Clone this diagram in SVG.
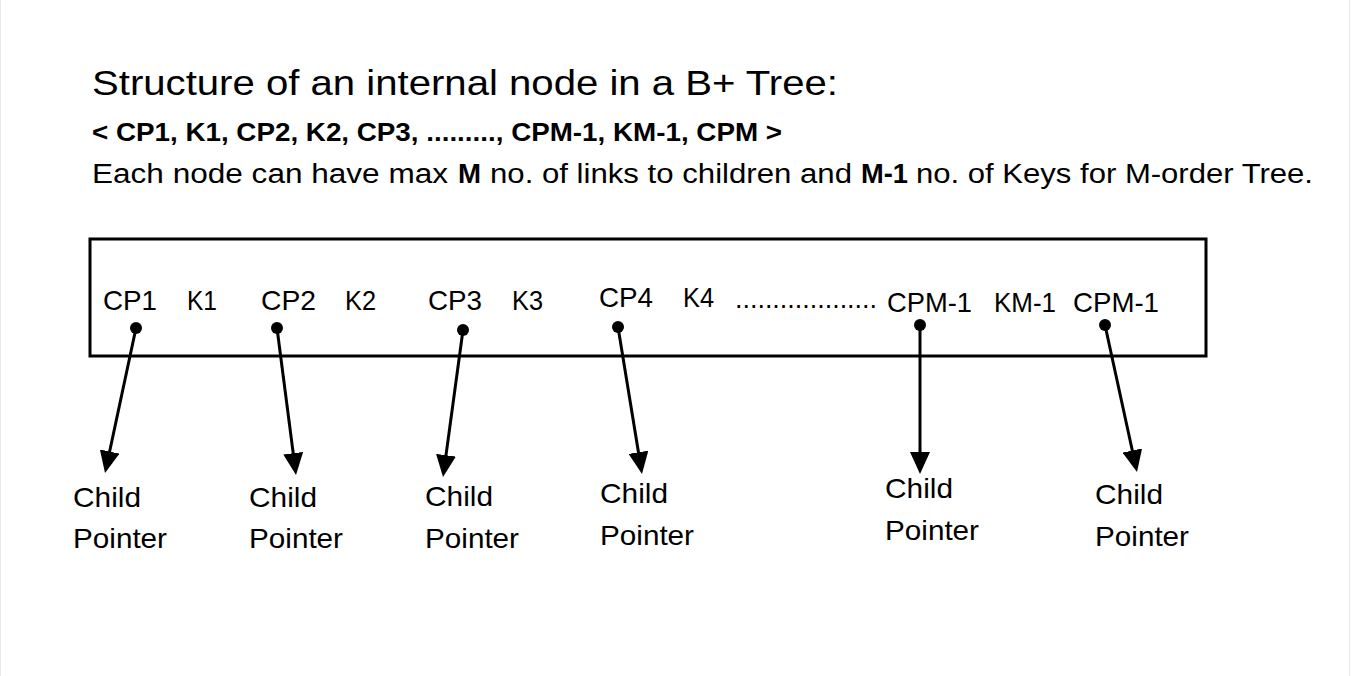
<svg xmlns="http://www.w3.org/2000/svg" width="1351" height="676" viewBox="0 0 1351 676">
<style>
  .t { font-family: "Liberation Sans", Arial, sans-serif; fill: #000; }
  .b { font-weight: bold; }
  .key { font-family: "Liberation Sans", Arial, sans-serif; font-size: 28px; fill: #000; }
  .lbl { font-family: "Liberation Sans", Arial, sans-serif; font-size: 28px; fill: #000; }
  .conn { stroke: #000; stroke-width: 3; fill: none; marker-end: url(#arr); }
  .dot { fill: #000; }
</style>
<defs>
  <marker id="arr" markerUnits="userSpaceOnUse" markerWidth="22" markerHeight="20" refX="14" refY="10" orient="auto" viewBox="0 0 22 20">
    <path d="M0,0 L22,10 L0,20 z" fill="#000"/>
  </marker>
</defs>
<rect x="0" y="0" width="1351" height="676" fill="#fff"/>
<rect x="0.5" y="-2" width="1349" height="680" fill="none" stroke="#e8e8e8" stroke-width="1"/>

<g id="header">
  <text class="t" x="92" y="95" font-size="35" textLength="746" lengthAdjust="spacingAndGlyphs">Structure of an internal node in a B+ Tree:</text>
  <text class="t b" x="92" y="141" font-size="25" textLength="690" lengthAdjust="spacingAndGlyphs">&lt; CP1, K1, CP2, K2, CP3, ........., CPM-1, KM-1, CPM &gt;</text>
  <text class="t" x="92" y="183" font-size="27" textLength="356" lengthAdjust="spacingAndGlyphs">Each node can have max</text>
  <text class="t b" x="458" y="183" font-size="27" textLength="23" lengthAdjust="spacingAndGlyphs">M</text>
  <text class="t" x="490" y="183" font-size="27" textLength="362" lengthAdjust="spacingAndGlyphs">no. of links to children and</text>
  <text class="t b" x="861" y="183" font-size="27" textLength="47" lengthAdjust="spacingAndGlyphs">M-1</text>
  <text class="t" x="916" y="183" font-size="27" textLength="397" lengthAdjust="spacingAndGlyphs">no. of Keys for M-order Tree.</text>
</g>

<g id="node">
  <rect x="90" y="239" width="1116" height="117" fill="none" stroke="#000" stroke-width="3"/>
  <text class="key" x="103" y="310" textLength="54" lengthAdjust="spacingAndGlyphs">CP1</text>
  <text class="key" x="187" y="310" textLength="30" lengthAdjust="spacingAndGlyphs">K1</text>
  <text class="key" x="261" y="310" textLength="55" lengthAdjust="spacingAndGlyphs">CP2</text>
  <text class="key" x="345" y="310" textLength="31" lengthAdjust="spacingAndGlyphs">K2</text>
  <text class="key" x="428" y="310" textLength="54" lengthAdjust="spacingAndGlyphs">CP3</text>
  <text class="key" x="512" y="310" textLength="31" lengthAdjust="spacingAndGlyphs">K3</text>
  <text class="key" x="599" y="307" textLength="54" lengthAdjust="spacingAndGlyphs">CP4</text>
  <text class="key" x="683" y="307" textLength="31" lengthAdjust="spacingAndGlyphs">K4</text>
  <text class="key" x="735" y="308" textLength="142" lengthAdjust="spacingAndGlyphs">...................</text>
  <text class="key" x="887" y="312" textLength="85" lengthAdjust="spacingAndGlyphs">CPM-1</text>
  <text class="key" x="994" y="312" textLength="62" lengthAdjust="spacingAndGlyphs">KM-1</text>
  <text class="key" x="1073" y="312" textLength="86" lengthAdjust="spacingAndGlyphs">CPM-1</text>
  <circle class="dot" cx="136" cy="328" r="6"/>
  <circle class="dot" cx="277" cy="328" r="6"/>
  <circle class="dot" cx="463" cy="330" r="6"/>
  <circle class="dot" cx="618" cy="327" r="6"/>
  <circle class="dot" cx="920" cy="325" r="6"/>
  <circle class="dot" cx="1105" cy="325" r="6"/>
</g>

<g id="connectors">
  <line class="conn" x1="136" y1="328" x2="106.7" y2="465.2"/>
  <line class="conn" x1="277" y1="328" x2="295.0" y2="467.1"/>
  <line class="conn" x1="463" y1="330" x2="444.1" y2="469.1"/>
  <line class="conn" x1="618" y1="327" x2="640.7" y2="466.1"/>
  <line class="conn" x1="920" y1="325" x2="920" y2="466"/>
  <line class="conn" x1="1105" y1="325" x2="1135.3" y2="464.2"/>
</g>

<g id="child1">
  <text class="lbl" x="73" y="507" textLength="68" lengthAdjust="spacingAndGlyphs">Child</text>
  <text class="lbl" x="73" y="548" textLength="94" lengthAdjust="spacingAndGlyphs">Pointer</text>
</g>
<g id="child2">
  <text class="lbl" x="249" y="507" textLength="68" lengthAdjust="spacingAndGlyphs">Child</text>
  <text class="lbl" x="249" y="548" textLength="94" lengthAdjust="spacingAndGlyphs">Pointer</text>
</g>
<g id="child3">
  <text class="lbl" x="425" y="506" textLength="68" lengthAdjust="spacingAndGlyphs">Child</text>
  <text class="lbl" x="425" y="548" textLength="94" lengthAdjust="spacingAndGlyphs">Pointer</text>
</g>
<g id="child4">
  <text class="lbl" x="600" y="503" textLength="68" lengthAdjust="spacingAndGlyphs">Child</text>
  <text class="lbl" x="600" y="545" textLength="94" lengthAdjust="spacingAndGlyphs">Pointer</text>
</g>
<g id="child5">
  <text class="lbl" x="885" y="498" textLength="68" lengthAdjust="spacingAndGlyphs">Child</text>
  <text class="lbl" x="885" y="540" textLength="94" lengthAdjust="spacingAndGlyphs">Pointer</text>
</g>
<g id="child6">
  <text class="lbl" x="1095" y="504" textLength="68" lengthAdjust="spacingAndGlyphs">Child</text>
  <text class="lbl" x="1095" y="546" textLength="94" lengthAdjust="spacingAndGlyphs">Pointer</text>
</g>
</svg>
